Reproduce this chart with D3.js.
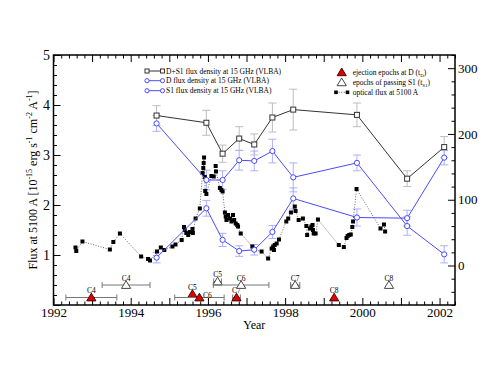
<!DOCTYPE html>
<html><head><meta charset="utf-8">
<script src="https://cdn.jsdelivr.net/npm/d3@7"></script>
<style>
body{margin:0;background:#fff}
svg{display:block}
text{font-family:"Liberation Serif","Times New Roman",serif;fill:#000}
</style></head><body>
<svg id="chart" width="479" height="370"></svg>
<script>
// ---------- DATA ----------
// VLBA epochs (years) and 15 GHz flux densities (right axis)
const vlbaYears = [1994.67, 1995.96, 1996.38, 1996.81, 1997.20, 1997.67, 1998.21, 1999.86, 2001.16, 2002.12];
const fluxDS1   = [228, 217, 170, 193, 184, 225, 237, 229, 132, 180];
const errDS1    = [15, 19, 13, 18, 16, 22, 31, 18, 12, 16];
const fluxD     = [216, 130, 130, 160, 159, 174, 134, 156, 60, 17];
const errD      = [12, 15, 14, 15, 15, 18, 22, 12, 14, 13];
const fluxS1    = [12, 87, 39, 22, 24, 51, 102, 73, 72, 164];
const errS1     = [8, 12, 10, 8, 8, 10, 16, 13, 12, 11];

// optical flux at 5100 A (left axis)
const opticalYear = [1992.57,1992.59,1992.75,1993.46,1993.55,1993.72,1994.27,1994.45,1994.50,1994.68,1994.78,1994.87,1995.08,1995.16,1995.32,1995.38,1995.40,1995.44,1995.49,1995.53,1995.60,1995.61,1995.68,1995.79,1995.86,1995.88,1995.89,1995.90,1995.92,1995.93,1995.96,1996.09,1996.15,1996.20,1996.21,1996.31,1996.35,1996.38,1996.44,1996.46,1996.48,1996.52,1996.57,1996.61,1996.65,1996.68,1996.72,1996.76,1996.78,1996.85,1997.15,1997.19,1997.39,1997.56,1997.65,1997.69,1997.71,1997.73,1997.78,1997.84,1998.03,1998.08,1998.15,1998.25,1998.27,1998.35,1998.46,1998.55,1998.57,1998.64,1998.68,1998.71,1998.72,1998.74,1998.79,1998.85,1999.39,1999.52,1999.59,1999.62,1999.66,1999.70,1999.74,1999.76,1999.85,2000.47,2000.56,2000.59];
const opticalFlux = [1.15,1.08,1.27,1.11,1.26,1.43,0.97,0.92,0.89,1.07,1.15,1.10,1.17,1.21,1.30,1.56,1.50,1.44,1.40,1.46,1.52,1.44,1.73,1.93,2.64,2.74,2.84,2.95,2.56,2.28,2.22,2.58,2.57,2.78,2.67,2.34,2.30,2.27,1.85,1.77,1.70,1.80,1.73,1.67,1.80,1.70,1.63,1.60,1.57,1.43,1.17,1.11,1.07,0.93,1.13,1.17,1.10,1.20,1.23,1.31,1.67,1.73,1.85,1.97,1.88,1.70,1.73,1.58,1.40,1.53,1.57,1.60,1.50,1.43,1.43,1.71,1.20,1.16,1.34,1.38,1.40,1.41,1.56,1.67,2.32,1.53,1.61,1.47];

// ejection epochs at D (red) and epochs of passing S1 (open)
const ejectLabels = ["C4", "C5", "C6", "C7", "C8"];
const ejectYear   = [1992.98, 1995.60, 1995.78, 1996.74, 1999.27];
const ejectErr    = [0.66, 0, 0.64, 0.10, 0];
const ejectLevel  = [0.15, 0.22, 0.15, 0.15, 0.15];
const passLabels  = ["C4", "C5", "C6", "C7", "C8"];
const passYear    = [1993.88, 1996.25, 1996.86, 1998.26, 2000.69];
const passErr     = [0.62, 0.10, 0.72, 0.12, 0];
const passLevel   = [0.40, 0.47, 0.40, 0.40, 0.40];

// axes
const xMajorTicks = [1992,1993,1994,1995,1996,1997,1998,1999,2000,2001,2002];
const xTickLabels = [1992,1994,1996,1998,2000,2002];
const yLeftTicks  = [0,1,2,3,4,5];
const yLeftLabels = [1,2,3,4,5];
const yRightTicks = [0,100,200,300];

const legendLeft  = ["D+S1 flux density at 15 GHz (VLBA)", "D  flux density at 15 GHz (VLBA)", "S1 flux density at 15 GHz (VLBA)"];

// ---------- LAYOUT ----------
const L = 53.5, R = 455, T = 55, B = 305;
const FONT = '"Liberation Serif","Times New Roman",serif';
const BLUE = "#4a4aff", BLUE_ERR = "#aab0ff", GREY_ERR = "#bdbdbd";

const x  = d3.scaleLinear().domain([1992, 2002.4]).range([L, R]);
const yL = d3.scaleLinear().domain([0, 5]).range([B, T]);
const yR = d3.scaleLinear().domain([-60, 320]).range([B, T]);

const svg = d3.select("#chart");

// ---------- AXES ----------
const xMinor = d3.range(0, 53).filter(i => i % 5 !== 0).map(i => 1992 + i * 0.2).filter(v => v <= 2002.4);
const yLMinor = d3.range(0, 26).filter(i => i % 5 !== 0).map(i => i * 0.2);
const yRMinor = d3.range(-60, 321, 20).filter(v => v % 100 !== 0);

function clean(g, fs) {
  g.select(".domain").remove();
  g.selectAll(".tick line").attr("stroke", "#000").attr("stroke-width", 1);
  g.selectAll(".tick text").attr("font-size", fs).attr("font-family", FONT).attr("fill", "#000");
}
// bottom
svg.append("g").attr("transform", `translate(0,${B})`)
  .call(d3.axisBottom(x).tickValues(xMajorTicks).tickSize(-7).tickPadding(3)
    .tickFormat(d => xTickLabels.includes(d) ? String(d) : ""))
  .call(g => clean(g, 13));
svg.append("g").attr("transform", `translate(0,${B})`)
  .call(d3.axisBottom(x).tickValues(xMinor).tickSize(-3.5).tickFormat(""))
  .call(g => clean(g, 13));
// top
svg.append("g").attr("transform", `translate(0,${T})`)
  .call(d3.axisTop(x).tickValues(xMajorTicks).tickSize(-7).tickFormat(""))
  .call(g => clean(g, 13));
svg.append("g").attr("transform", `translate(0,${T})`)
  .call(d3.axisTop(x).tickValues(xMinor).tickSize(-3.5).tickFormat(""))
  .call(g => clean(g, 13));
// left
svg.append("g").attr("transform", `translate(${L},0)`)
  .call(d3.axisLeft(yL).tickValues(yLeftTicks).tickSize(-7).tickPadding(3.5)
    .tickFormat(d => yLeftLabels.includes(d) ? String(d) : ""))
  .call(g => clean(g, 14));
svg.append("g").attr("transform", `translate(${L},0)`)
  .call(d3.axisLeft(yL).tickValues(yLMinor).tickSize(-3.5).tickFormat(""))
  .call(g => clean(g, 14));
// right
svg.append("g").attr("transform", `translate(${R},0)`)
  .call(d3.axisRight(yR).tickValues(yRightTicks).tickSize(-7).tickPadding(3))
  .call(g => clean(g, 13));
svg.append("g").attr("transform", `translate(${R},0)`)
  .call(d3.axisRight(yR).tickValues(yRMinor).tickSize(-3.5).tickFormat(""))
  .call(g => clean(g, 13));

// frame
svg.append("rect").attr("x", L).attr("y", T).attr("width", R - L).attr("height", B - T)
  .attr("fill", "none").attr("stroke", "#000").attr("stroke-width", 1.5);

// axis titles
svg.append("text").attr("x", (L + R) / 2).attr("y", 329).attr("text-anchor", "middle")
  .attr("font-size", 12).text("Year");

const yt = svg.append("text").attr("transform", "translate(37,180) rotate(-90)")
  .attr("text-anchor", "middle").attr("font-size", 12);
const parts = [["Flux at 5100 A [10", 0], ["-15", 1], [" erg s", 0], ["-1", 1], [" cm", 0], ["-2", 1], [" A", 0], ["-1", 1], ["]", 0]];
let prevSup = 0;
parts.forEach(([t, s]) => {
  const dy = s && !prevSup ? -5 : (!s && prevSup ? 5 : 0);
  yt.append("tspan").attr("dy", dy).attr("font-size", s ? 8 : 12).text(t);
  prevSup = s;
});

// ---------- ERROR BARS ----------
function vErr(years, vals, errs, color) {
  const g = svg.append("g").attr("stroke", color).attr("stroke-width", 1).attr("fill", "none");
  years.forEach((yr, i) => {
    const cx = x(yr), y1 = yR(vals[i] + errs[i]), y2 = yR(vals[i] - errs[i]);
    g.append("line").attr("x1", cx).attr("x2", cx).attr("y1", y1).attr("y2", y2);
    g.append("line").attr("x1", cx - 4).attr("x2", cx + 4).attr("y1", y1).attr("y2", y1);
    g.append("line").attr("x1", cx - 4).attr("x2", cx + 4).attr("y1", y2).attr("y2", y2);
  });
}
vErr(vlbaYears, fluxDS1, errDS1, GREY_ERR);
vErr(vlbaYears, fluxD, errD, BLUE_ERR);
vErr(vlbaYears, fluxS1, errS1, BLUE_ERR);

// ---------- OPTICAL ----------
const opt = opticalYear.map((yr, i) => [yr, opticalFlux[i]]);
svg.append("path").datum(opt)
  .attr("d", d3.line().x(d => x(d[0])).y(d => yL(d[1])))
  .attr("fill", "none").attr("stroke", "#555").attr("stroke-width", 0.9).attr("stroke-dasharray", "1,1.6");
svg.append("g").selectAll("rect").data(opt).join("rect")
  .attr("x", d => x(d[0]) - 2).attr("y", d => yL(d[1]) - 2).attr("width", 4).attr("height", 4)
  .attr("fill", "#000");

// ---------- VLBA LINES ----------
function series(vals, color, sym) {
  const pts = vlbaYears.map((yr, i) => [yr, vals[i]]);
  svg.append("path").datum(pts)
    .attr("d", d3.line().x(d => x(d[0])).y(d => yR(d[1])))
    .attr("fill", "none").attr("stroke", color).attr("stroke-width", 1);
  const g = svg.append("g");
  if (sym === "square") {
    g.selectAll("rect").data(pts).join("rect")
      .attr("x", d => x(d[0]) - 2.5).attr("y", d => yR(d[1]) - 2.5).attr("width", 5).attr("height", 5)
      .attr("fill", "#fff").attr("stroke", color).attr("stroke-width", 1);
  } else {
    g.selectAll("circle").data(pts).join("circle")
      .attr("cx", d => x(d[0])).attr("cy", d => yR(d[1])).attr("r", 2.6)
      .attr("fill", "#fff").attr("stroke", color).attr("stroke-width", 1);
  }
}
series(fluxDS1, "#333", "square");
series(fluxD, BLUE, "circle");
series(fluxS1, BLUE, "circle");

// ---------- TRIANGLES ----------
const tri = "M0,-4.3L4.6,3.4L-4.6,3.4Z";
function epochs(labels, years, errs, levels, filled, nudge) {
  const g = svg.append("g");
  years.forEach((yr, i) => {
    const cx = x(yr), cy = yL(levels[i]);
    if (errs[i] > 0) {
      const x1 = x(yr - errs[i]), x2 = x(yr + errs[i]);
      g.append("line").attr("x1", x1).attr("x2", x2).attr("y1", cy).attr("y2", cy).attr("stroke", "#777").attr("stroke-width", 1);
      g.append("line").attr("x1", x1).attr("x2", x1).attr("y1", cy - 3).attr("y2", cy + 3).attr("stroke", "#777");
      g.append("line").attr("x1", x2).attr("x2", x2).attr("y1", cy - 3).attr("y2", cy + 3).attr("stroke", "#777");
    }
    g.append("path").attr("d", tri).attr("transform", `translate(${cx},${cy})`)
      .attr("fill", filled ? "#e00000" : "#fff").attr("stroke", filled ? "#300" : "#333").attr("stroke-width", 0.9);
    const n = nudge[labels[i]] || [0, -4.5];
    g.append("text").attr("x", cx + n[0]).attr("y", cy + n[1]).attr("text-anchor", "middle")
      .attr("font-size", 7.5).text(labels[i]);
  });
}
epochs(ejectLabels, ejectYear, ejectErr, ejectLevel, true, {C6: [8, 0.8]});
epochs(passLabels, passYear, passErr, passLevel, false, {});

// ---------- LEGENDS ----------
const lg = svg.append("g");
const lrows = [71, 80.7, 90.7];
lrows.forEach((ly, i) => {
  const c = i === 0 ? "#333" : BLUE;
  lg.append("line").attr("x1", 147).attr("x2", 162.5).attr("y1", ly).attr("y2", ly).attr("stroke", c);
  [147, 162.5].forEach(px => {
    if (i === 0) lg.append("rect").attr("x", px - 2).attr("y", ly - 2).attr("width", 4).attr("height", 4).attr("fill", "#fff").attr("stroke", c);
    else lg.append("circle").attr("cx", px).attr("cy", ly).attr("r", 2.1).attr("fill", "#fff").attr("stroke", c);
  });
  lg.append("text").attr("x", 166).attr("y", ly + 2.6).attr("font-size", 7.5).text(legendLeft[i]);
});
// right legend
lg.append("path").attr("d", tri).attr("transform", "translate(341.7,72.3)").attr("fill", "#e00000").attr("stroke", "#300").attr("stroke-width", 0.9);
lg.append("path").attr("d", tri).attr("transform", "translate(341.7,82.3)").attr("fill", "#fff").attr("stroke", "#333").attr("stroke-width", 0.9);
lg.append("line").attr("x1", 336).attr("x2", 347.5).attr("y1", 92.3).attr("y2", 92.3).attr("stroke", "#555").attr("stroke-dasharray", "1,1.6");
[336, 347.5].forEach(px => lg.append("rect").attr("x", px - 1.8).attr("y", 90.5).attr("width", 3.6).attr("height", 3.6).attr("fill", "#000"));
function subText(xp, yp, main, sub) {
  const t = lg.append("text").attr("x", xp).attr("y", yp).attr("font-size", 7.5);
  t.append("tspan").text(main);
  if (sub) {
    t.append("tspan").attr("dy", 1.8).attr("font-size", 5).text(sub);
    t.append("tspan").attr("dy", -1.8).text(")");
  }
}
subText(352.7, 74.8, "ejection epochs at D (t", "D");
subText(352.7, 84.8, "epochs of passing S1 (t", "S1");
subText(352.7, 94.8, "optical flux at 5100 A", null);
</script>
</body></html>
